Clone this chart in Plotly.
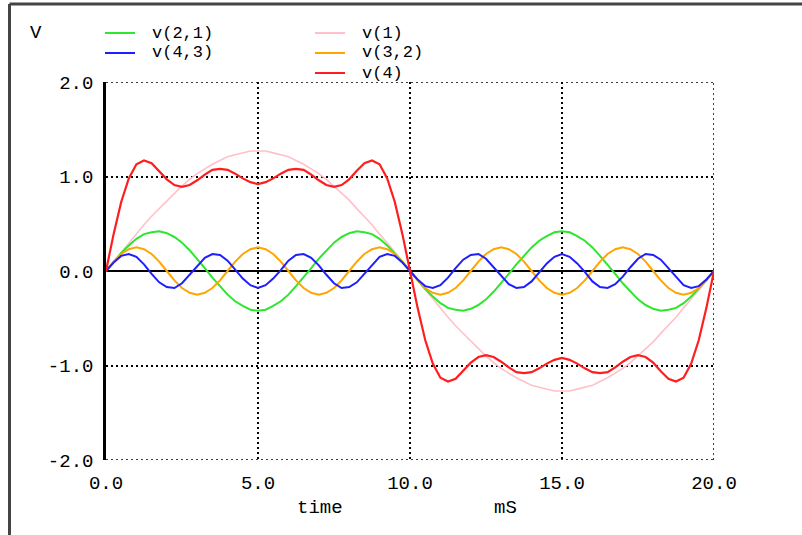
import plotly.graph_objects as go

# sample times (ms)
time_ms = [0.00, 0.25, 0.50, 0.75, 1.00, 1.25, 1.50, 1.75, 2.00, 2.25, 2.50, 2.75, 3.00, 3.25, 3.50, 3.75,
           4.00, 4.25, 4.50, 4.75, 5.00, 5.25, 5.50, 5.75, 6.00, 6.25, 6.50, 6.75, 7.00, 7.25, 7.50, 7.75,
           8.00, 8.25, 8.50, 8.75, 9.00, 9.25, 9.50, 9.75, 10.00, 10.25, 10.50, 10.75, 11.00, 11.25, 11.50, 11.75,
           12.00, 12.25, 12.50, 12.75, 13.00, 13.25, 13.50, 13.75, 14.00, 14.25, 14.50, 14.75, 15.00, 15.25, 15.50, 15.75,
           16.00, 16.25, 16.50, 16.75, 17.00, 17.25, 17.50, 17.75, 18.00, 18.25, 18.50, 18.75, 19.00, 19.25, 19.50, 19.75,
           20.00]

v1 = [0.00, 0.10, 0.20, 0.30, 0.39, 0.49, 0.58, 0.66, 0.75, 0.82, 0.90, 0.97, 1.03, 1.08, 1.13, 1.17,
      1.21, 1.23, 1.25, 1.27, 1.27, 1.27, 1.25, 1.23, 1.21, 1.17, 1.13, 1.08, 1.03, 0.97, 0.90, 0.82,
      0.75, 0.66, 0.58, 0.49, 0.39, 0.30, 0.20, 0.10, 0.00, -0.10, -0.20, -0.30, -0.39, -0.49, -0.58, -0.66,
      -0.75, -0.82, -0.90, -0.97, -1.03, -1.08, -1.13, -1.17, -1.21, -1.23, -1.25, -1.27, -1.27, -1.27, -1.25, -1.23,
      -1.21, -1.17, -1.13, -1.08, -1.03, -0.97, -0.90, -0.82, -0.75, -0.66, -0.58, -0.49, -0.39, -0.30, -0.20, -0.10,
      0.00]

v21 = [0.00, 0.10, 0.19, 0.27, 0.34, 0.39, 0.41, 0.42, 0.40, 0.36, 0.30, 0.22, 0.13, 0.03, -0.07, -0.16,
       -0.25, -0.32, -0.37, -0.41, -0.42, -0.41, -0.37, -0.32, -0.25, -0.16, -0.07, 0.03, 0.13, 0.22, 0.30, 0.36,
       0.40, 0.42, 0.41, 0.39, 0.34, 0.27, 0.19, 0.10, 0.00, -0.10, -0.19, -0.27, -0.34, -0.39, -0.41, -0.42,
       -0.40, -0.36, -0.30, -0.22, -0.13, -0.03, 0.07, 0.16, 0.25, 0.32, 0.37, 0.41, 0.42, 0.41, 0.37, 0.32,
       0.25, 0.16, 0.07, -0.03, -0.13, -0.22, -0.30, -0.36, -0.40, -0.42, -0.41, -0.39, -0.34, -0.27, -0.19, -0.10,
       0.00]

v32 = [0.00, 0.10, 0.18, 0.23, 0.25, 0.23, 0.18, 0.10, 0.00, -0.10, -0.18, -0.23, -0.25, -0.23, -0.18, -0.10,
       0.00, 0.10, 0.18, 0.23, 0.25, 0.23, 0.18, 0.10, 0.00, -0.10, -0.18, -0.23, -0.25, -0.23, -0.18, -0.10,
       0.00, 0.10, 0.18, 0.23, 0.25, 0.23, 0.18, 0.10, 0.00, -0.10, -0.18, -0.23, -0.25, -0.23, -0.18, -0.10,
       0.00, 0.10, 0.18, 0.23, 0.25, 0.23, 0.18, 0.10, 0.00, -0.10, -0.18, -0.23, -0.25, -0.23, -0.18, -0.10,
       0.00, 0.10, 0.18, 0.23, 0.25, 0.23, 0.18, 0.10, 0.00, -0.10, -0.18, -0.23, -0.25, -0.23, -0.18, -0.10,
       0.00]

v43 = [0.00, 0.09, 0.16, 0.18, 0.15, 0.07, -0.03, -0.12, -0.17, -0.18, -0.13, -0.04, 0.06, 0.14, 0.18, 0.17,
       0.11, 0.01, -0.08, -0.15, -0.18, -0.15, -0.08, 0.01, 0.11, 0.17, 0.18, 0.14, 0.06, -0.04, -0.13, -0.18,
       -0.17, -0.12, -0.03, 0.07, 0.15, 0.18, 0.16, 0.09, 0.00, -0.09, -0.16, -0.18, -0.15, -0.07, 0.03, 0.12,
       0.17, 0.18, 0.13, 0.04, -0.06, -0.14, -0.18, -0.17, -0.11, -0.01, 0.08, 0.15, 0.18, 0.15, 0.08, -0.01,
       -0.11, -0.17, -0.18, -0.14, -0.06, 0.04, 0.13, 0.18, 0.17, 0.12, 0.03, -0.07, -0.15, -0.18, -0.16, -0.09,
       0.00]

v4 = [0.00, 0.39, 0.73, 0.98, 1.13, 1.17, 1.14, 1.06, 0.97, 0.91, 0.89, 0.91, 0.96, 1.02, 1.07, 1.08,
      1.07, 1.03, 0.98, 0.94, 0.92, 0.94, 0.98, 1.03, 1.07, 1.08, 1.07, 1.02, 0.96, 0.91, 0.89, 0.91,
      0.97, 1.06, 1.14, 1.17, 1.13, 0.98, 0.73, 0.39, 0.00, -0.39, -0.73, -0.98, -1.13, -1.17, -1.14, -1.06,
      -0.97, -0.91, -0.89, -0.91, -0.96, -1.02, -1.07, -1.08, -1.07, -1.03, -0.98, -0.94, -0.92, -0.94, -0.98, -1.03,
      -1.07, -1.08, -1.07, -1.02, -0.96, -0.91, -0.89, -0.91, -0.97, -1.06, -1.14, -1.17, -1.13, -0.98, -0.73, -0.39,
      0.00]

series_names = ["v(1)", "v(2,1)", "v(3,2)", "v(4,3)", "v(4)"]
series_values = [v1, v21, v32, v43, v4]
series_colors = ["#ffc0cb", "#2ee62e", "#ffa500", "#1e1eff", "#ff1e1e"]
series_widths = [1.6, 2, 2, 2, 2.2]

x_tickvals = [0, 5, 10, 15, 20]
x_ticktext = ["0.0", "5.0", "10.0", "15.0", "20.0"]
y_tickvals = [-2, -1, 0, 1, 2]
y_ticktext = ["-2.0", "-1.0", "0.0", "1.0", "2.0"]

FONT = "Liberation Mono, DejaVu Sans Mono, monospace"
FS = 19
FS_LEG = 17
W, H = 802, 535
L, R, T, B = 106, 88, 82, 75
PW, PH = W - L - R, H - T - B


def px(xp):
    return (xp - L) / PW


def py(yp):
    return (H - B - yp) / PH


fig = go.Figure()
for name, vals, col, lw in zip(series_names, series_values, series_colors, series_widths):
    fig.add_trace(go.Scatter(x=time_ms, y=vals, mode="lines", name=name,
                             line=dict(color=col, width=lw), showlegend=False))

shapes = []
annotations = []
# legend (two columns) drawn as key lines + labels
legend_layout = [("v(2,1)", 105, 33), ("v(4,3)", 105, 53),
                 ("v(1)", 315, 33), ("v(3,2)", 315, 53), ("v(4)", 315, 73)]
color_of = dict(zip(series_names, series_colors))
for name, x0, yy in legend_layout:
    shapes.append(dict(type="line", xref="paper", yref="paper",
                       x0=px(x0), x1=px(x0 + 30), y0=py(yy), y1=py(yy),
                       line=dict(color=color_of[name], width=2)))
    annotations.append(dict(text=name, xref="paper", yref="paper", x=px(x0 + 46), y=py(yy),
                            xanchor="left", yanchor="middle", showarrow=False, borderpad=0,
                            font=dict(family=FONT, size=FS_LEG, color="black")))

annotations.append(dict(text="V", xref="paper", yref="paper", x=px(36), y=py(33),
                        xanchor="center", yanchor="middle", showarrow=False,
                        font=dict(family=FONT, size=FS, color="black")))
annotations.append(dict(text="time", xref="paper", yref="paper", x=px(320), y=py(508),
                        xanchor="center", yanchor="middle", showarrow=False,
                        font=dict(family=FONT, size=FS, color="black")))
annotations.append(dict(text="mS", xref="paper", yref="paper", x=px(505), y=py(508),
                        xanchor="center", yanchor="middle", showarrow=False,
                        font=dict(family=FONT, size=FS, color="black")))

# window frame (top and left edges)
shapes.append(dict(type="line", xref="paper", yref="paper", x0=px(9.5), x1=px(W + 5),
                   y0=py(4), y1=py(4), line=dict(color="#444444", width=3)))
shapes.append(dict(type="line", xref="paper", yref="paper", x0=px(9.5), x1=px(9.5),
                   y0=py(4), y1=py(H + 5), line=dict(color="#444444", width=3)))

# border grid lines at range ends (dotted)
dot = "2px,3px"
shapes.append(dict(type="line", xref="x", yref="y", x0=20, x1=20, y0=-2, y1=2,
                   line=dict(color="black", width=1.5, dash=dot), layer="below"))
shapes.append(dict(type="line", xref="x", yref="y", x0=0, x1=20, y0=2, y1=2,
                   line=dict(color="black", width=1.5, dash=dot), layer="below"))
shapes.append(dict(type="line", xref="x", yref="y", x0=0, x1=20, y0=-2, y1=-2,
                   line=dict(color="black", width=1.5, dash=dot), layer="below"))

fig.update_layout(
    width=W, height=H,
    margin=dict(l=L, r=R, t=T, b=B, pad=0),
    paper_bgcolor="white", plot_bgcolor="white",
    shapes=shapes, annotations=annotations,
    font=dict(family=FONT, size=FS, color="black"),
    xaxis=dict(range=[0, 20], tickvals=x_tickvals, ticktext=x_ticktext,
               showgrid=True, gridcolor="black", gridwidth=1.5, griddash=dot,
               zeroline=False, showline=False, ticks="", ticklabelstandoff=9,
               tickfont=dict(family=FONT, size=FS, color="black")),
    yaxis=dict(range=[-2, 2], tickvals=y_tickvals, ticktext=y_ticktext,
               showgrid=True, gridcolor="black", gridwidth=1.5, griddash=dot,
               zeroline=True, zerolinecolor="black", zerolinewidth=2,
               showline=True, linecolor="black", linewidth=2.5, mirror=False,
               ticks="", ticklabelstandoff=6,
               tickfont=dict(family=FONT, size=FS, color="black")),
)

fig.write_html("out.html", config={"displayModeBar": False},
               post_script="document.body.style.margin='0';document.body.style.overflow='hidden';")
